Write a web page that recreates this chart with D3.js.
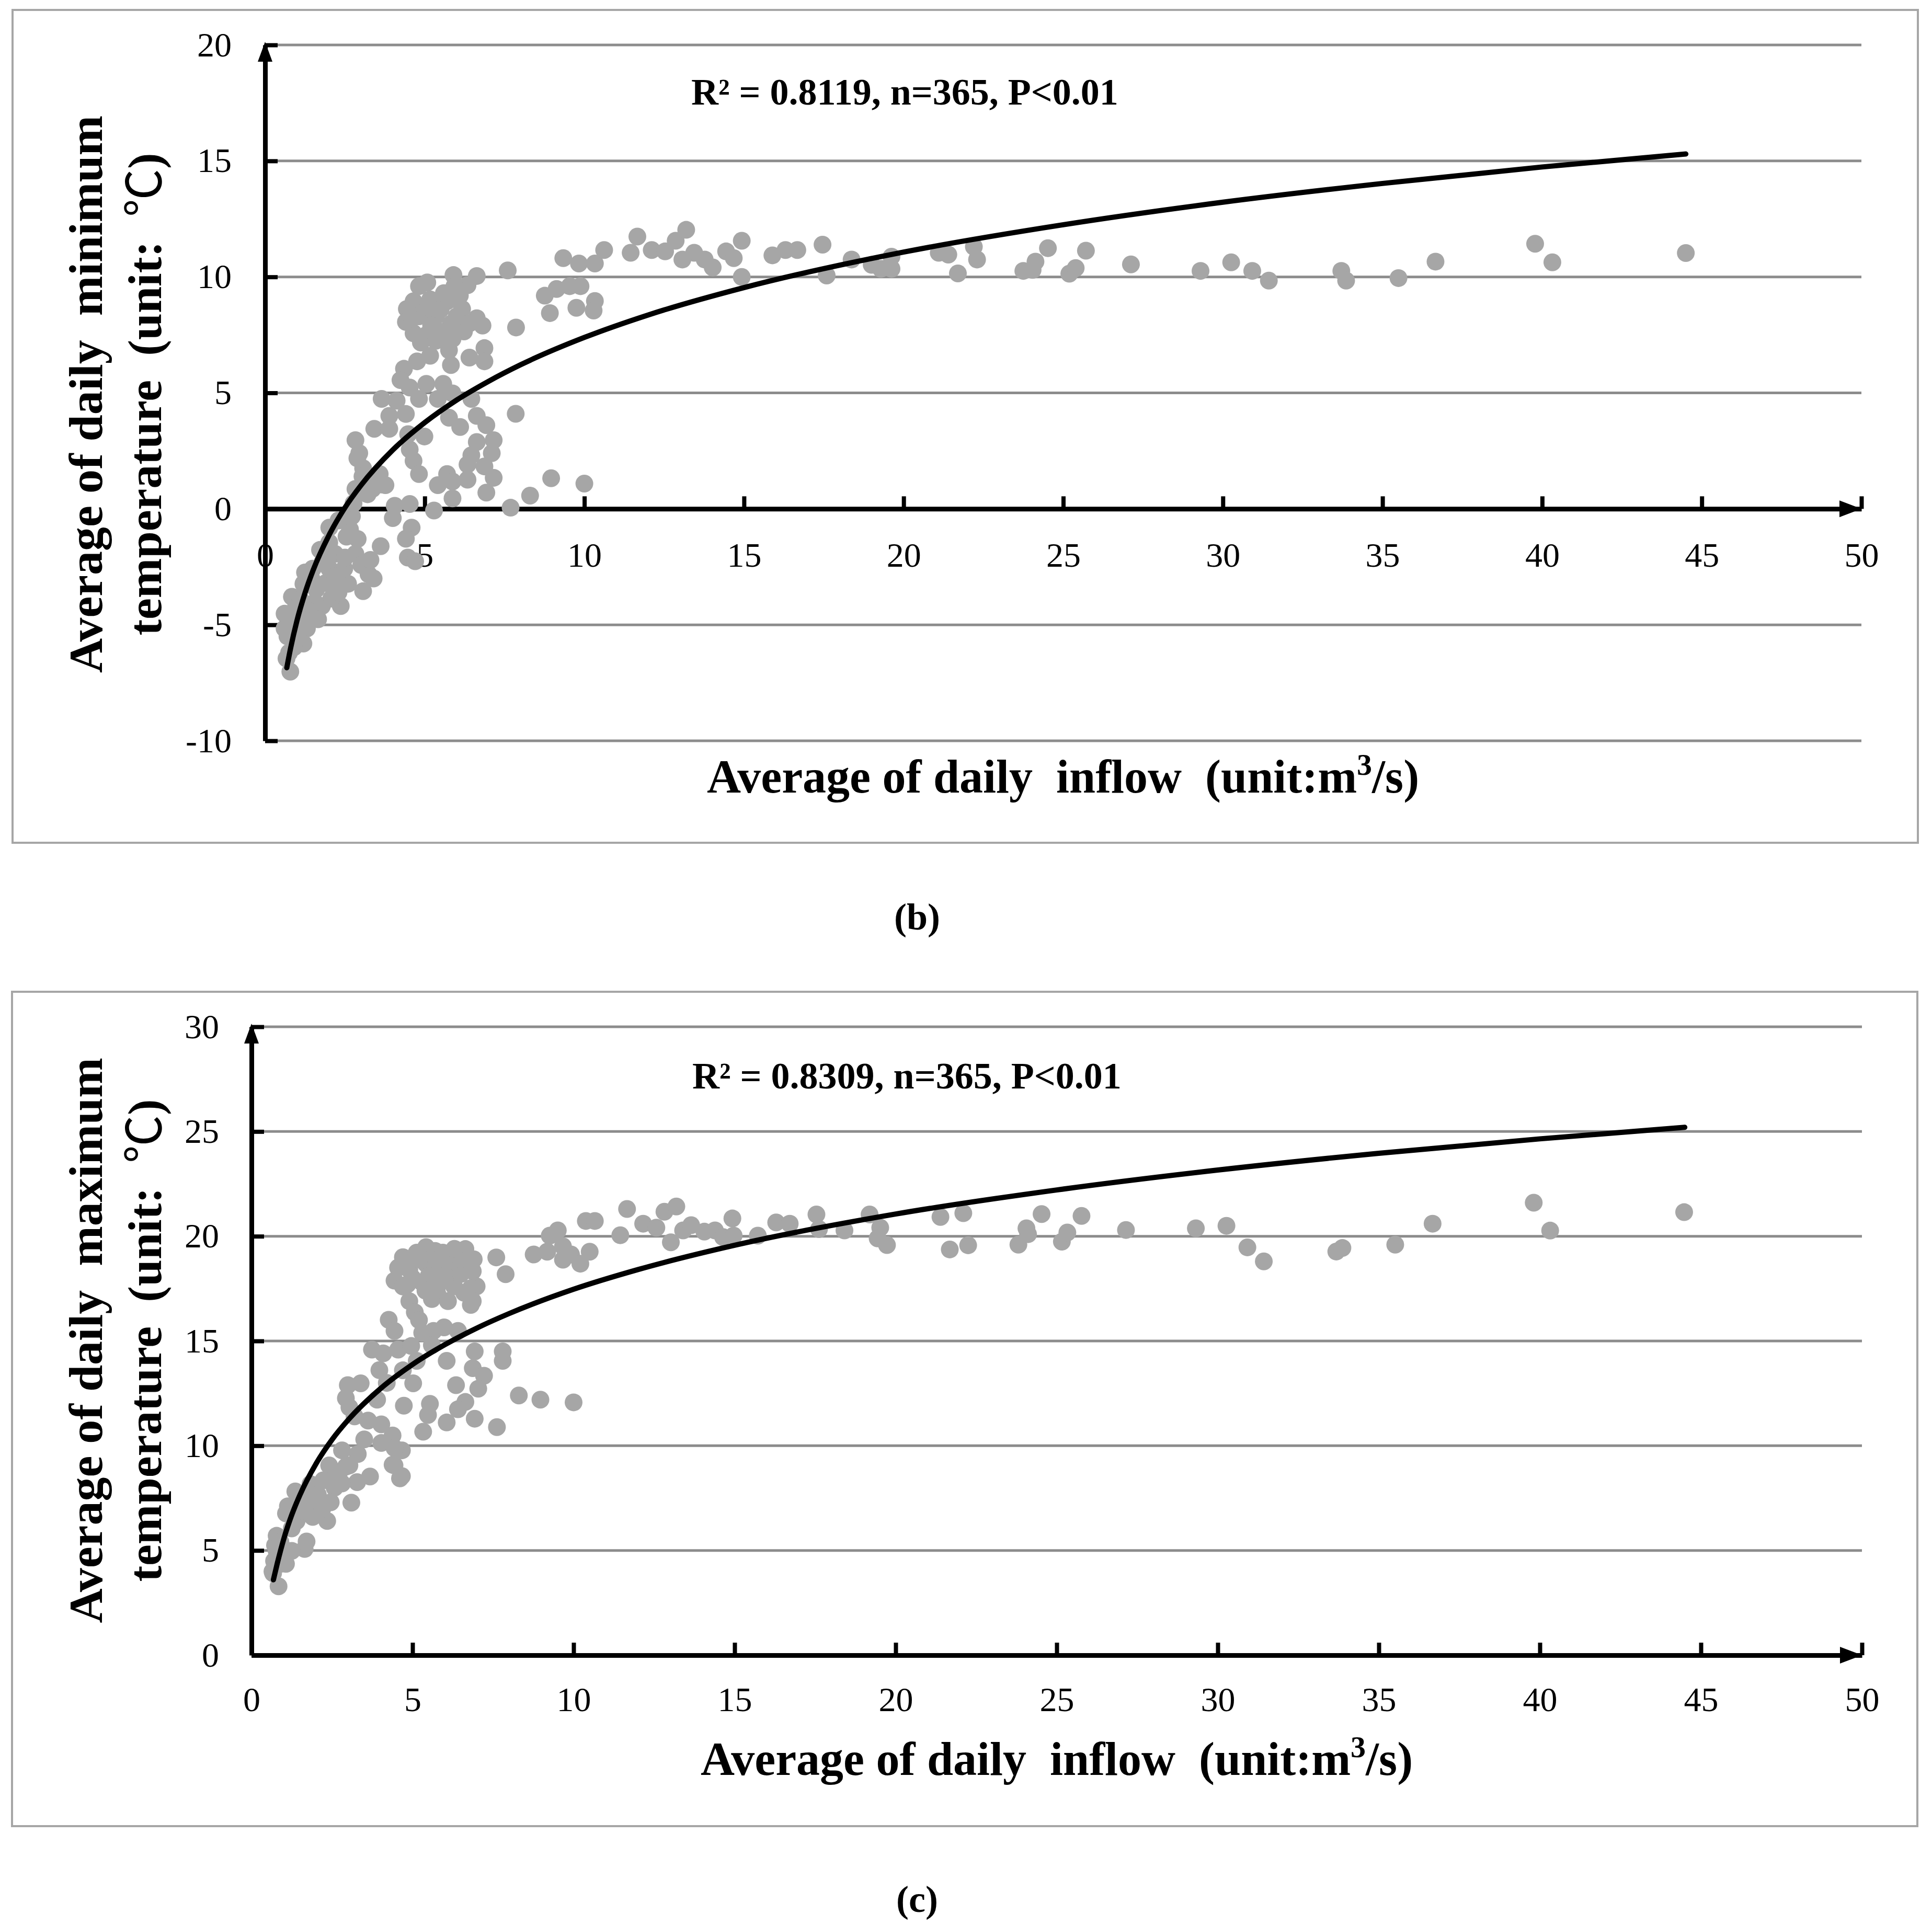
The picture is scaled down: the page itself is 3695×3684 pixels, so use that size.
<!DOCTYPE html>
<html>
<head>
<meta charset="utf-8">
<script src="https://cdn.jsdelivr.net/npm/d3@7"></script>
<style>
  body { margin: 0; background: #fff; }
  text { font-family: "Liberation Serif", "Times New Roman", serif; }
  .pre { white-space: pre; }
</style>
</head>
<body>
<svg id="chart"></svg>
<script>
// ---- data ----
const xTicks = [0, 5, 10, 15, 20, 25, 30, 35, 40, 45, 50];
const bYTicks = [-10, -5, 0, 5, 10, 15, 20];
const cYTicks = [0, 5, 10, 15, 20, 25, 30];

// (b) daily inflow vs daily minimum temperature
const bInflow = [
  9.34, 9.83, 10.33, 10.62, 8.76, 9.13, 9.54, 9.88, 9.75, 8.92, 10.33, 10.29, 11.66, 11.45, 12.11, 12.53,
  12.86, 13.19, 13.07, 13.44, 13.77, 14.02, 14.44, 14.93, 14.68, 14.93, 15.89, 16.3, 16.67, 17.46, 17.59, 18.37,
  19.0, 19.29, 19.62, 19.62, 21.1, 8.96, 10.0, 8.3, 7.85, 21.4, 21.7, 22.2, 22.3,
  23.75, 24.13, 24.04, 24.52, 25.19, 25.39, 25.71, 27.12, 29.3, 30.26, 30.92, 31.44, 33.71, 33.86, 35.5, 36.66,
  39.78, 40.32, 44.5,
  5.08, 5.9, 6.63, 7.6, 6.34, 5.93, 4.82, 4.65, 5.17, 5.7, 6.17, 6.63, 6.81, 4.44, 4.41, 4.82,
  5.35, 5.82, 6.23, 4.65, 5.05, 5.46, 4.88, 5.35, 5.87, 5.76, 7.86, 6.87, 6.87, 6.4, 5.82, 5.17,
  4.76, 4.35, 4.24, 4.53, 5.05, 5.58, 5.87, 3.65, 4.12, 4.82, 5.41, 6.46, 3.89, 4.41, 3.42, 3.89,
  4.99, 2.83, 2.95, 4.53, 4.65, 3.07, 3.59, 2.83, 3.36, 3.77, 4.82, 5.76, 6.11, 6.63, 6.93, 7.16,
  6.63, 7.1, 6.46, 6.34, 6.87, 7.16, 5.7, 5.41, 5.87, 6.34, 6.93, 5.87, 7.69, 4.06, 4.53, 5.29,
  4.0, 4.59, 4.41, 4.47, 4.7, 3.62, 2.72, 2.66, 2.01, 2.01, 2.19, 2.83, 3.01, 3.24, 3.07, 2.6,
  2.37, 2.07, 1.6, 1.78, 1.25, 1.66, 1.31, 1.2, 0.9, 0.67, 0.79, 0.61, 0.61, 0.84, 1.2, 1.49,
  1.72, 2.01, 2.48, 1.14, 1.55, 2.77, 3.18, 3.65, 2.89, 3.05, 3.21, 3.53, 4.48,
  0.7, 0.75, 1.0, 1.05, 1.1, 1.35, 1.45, 1.9, 2.2, 2.3, 2.5, 2.55, 2.3, 2.9, 3.3, 3.4,
  1.8, 0.95, 1.25, 0.85,
  5.1, 5.5, 6.0, 4.6, 5.2, 6.4, 5.6, 6.1
];
const bMinTemp = [
  10.81, 10.58, 10.58, 11.16, 9.19, 9.48, 9.6, 9.6, 8.67, 8.44, 8.96, 8.55, 11.74, 11.04, 11.16, 11.1,
  11.56, 12.03, 10.75, 11.04, 10.75, 10.41, 11.1, 11.56, 10.81, 10.0, 10.93, 11.16, 11.16, 11.39, 10.06, 10.75,
  10.52, 10.35, 10.87, 10.35, 11.04, 1.32, 1.09, 0.57, 4.1, 10.96, 10.15, 11.3, 10.75,
  10.26, 10.66, 10.3, 11.24, 10.14, 10.38, 11.13, 10.54, 10.26, 10.63, 10.26, 9.84, 10.26, 9.84, 9.95, 10.66,
  11.43, 10.63, 11.03,
  9.76, 10.08, 10.04, 10.28, 9.64, 9.6, 9.6, 8.95, 9.03, 8.95, 8.62, 8.22, 7.9, 8.62, 8.06, 8.3,
  8.3, 7.98, 7.65, 7.57, 7.49, 7.65, 7.17, 7.25, 7.33, 6.84, 7.82, 6.93, 6.36, 6.52, 6.2, 6.6,
  6.36, 6.04, 5.55, 5.23, 5.39, 5.39, 4.98, 4.74, 4.66, 4.74, 4.74, 4.74, 4.01, 4.09, 3.45, 3.45,
  3.12, 2.96, 2.4, 2.56, 2.07, 1.75, 1.5, 0.86, 0.86, 1.02, 1.5, 3.93, 3.53, 4.01, 3.61, 2.96,
  2.88, 2.4, 2.31, 1.91, 1.83, 1.34, 1.5, 1.02, 1.18, 1.26, 0.7, 0.45, 0.05, 0.13, 0.21, -0.07,
  -0.4, -0.81, -1.29, -2.1, -2.26, -1.61, -0.32, -0.89, -0.81, -1.45, -1.94, -1.94, -2.42, -2.82, -3.55, -3.23,
  -4.19, -3.87, -3.47, -4.19, -2.74, -4.76, -5.16, -5.81, -5.97, -6.45, -7.02, -4.52, -5.16, -3.79, -3.23, -2.58,
  -1.77, -2.58, -2.58, -4.35, -4.03, 0.24, 0.81, 1.05, 2.18, 1.4, 0.63, 1.14, 3.22,
  -5.5, -6.2, -4.8, -5.3, -3.9, -4.4, -3.0, -3.2, -2.9, -3.6, -2.1, -1.2, -0.5, -1.3, -2.2, -3.0,
  -2.3, -4.3, -4.8, -5.0,
  8.7, 8.6, 8.3, 8.2, 7.9, 8.0, 9.3, 9.2
];

// (c) daily inflow vs daily maximum temperature
const cInflow = [
  8.76, 9.26, 9.51, 9.67, 9.92, 10.21, 10.5, 10.38, 10.66, 9.18, 9.67, 11.45, 11.66, 12.16, 12.57, 12.82,
  13.19, 13.02, 13.4, 13.65, 14.06, 14.39, 14.64, 14.93, 14.97, 15.72, 16.29, 16.71, 17.54, 17.62, 18.41, 19.19,
  19.52, 19.44, 19.73, 21.39, 8.97, 10.0, 21.68, 22.1,
  22.25, 23.81, 24.06, 24.11, 24.53, 25.16, 25.33, 25.77, 27.15, 29.32, 30.27, 30.92, 31.43, 33.68, 33.87, 35.51,
  36.67, 39.81, 40.32, 44.48,
  5.42, 5.13, 5.94, 6.64, 4.55, 4.44, 4.9, 5.42, 5.89, 6.35, 6.87, 6.99, 4.84, 5.3, 5.77, 6.29,
  6.81, 5.77, 6.87, 6.81, 4.9, 5.07, 7.6, 7.89,
  4.26, 4.44, 3.74, 4.09, 4.55, 4.96, 5.13, 5.3, 5.65, 5.98, 6.41, 3.97, 6.06, 6.93, 7.8, 7.8,
  6.87, 7.22, 6.35, 7.04, 6.64, 8.3, 6.93, 6.41, 7.62, 5.02, 4.73, 5.54, 5.48, 6.06, 5.33, 2.99,
  3.39, 2.93, 3.04, 3.62, 4.03, 4.38, 4.03, 4.67, 4.44, 4.61, 3.68, 3.04, 2.81, 2.41, 2.23, 2.58,
  3.1, 3.28, 1.77, 1.36, 1.13, 2.06, 1.83,
  2.93, 2.81, 2.06, 2.46, 2.35, 1.77, 1.71, 1.65, 1.25, 1.07, 0.78, 0.78, 0.9, 0.67, 0.84, 0.73,
  1.25, 1.07, 4.44, 4.67, 4.38,
  0.7, 0.65, 0.9, 1.4, 1.55, 1.9, 2.2, 2.7, 3.3, 3.5, 3.2, 3.9, 4.2, 4.7, 5.6, 5.2,
  5.5, 6.1, 6.5, 6.2, 5.7, 4.7, 5.6, 6.1,
  5.2, 5.8, 6.5, 4.7, 5.4, 6.0, 6.6, 6.9, 5.0, 6.3
];
const cMaxTemp = [
  19.13, 20.03, 20.28, 19.52, 19.13, 18.69, 19.26, 20.73, 20.73, 19.26, 18.88, 20.05, 21.3, 20.6, 20.41, 21.17,
  21.42, 19.71, 20.28, 20.53, 20.22, 20.28, 19.96, 20.85, 20.03, 20.03, 20.66, 20.6, 21.04, 20.34, 20.28, 21.04,
  20.41, 19.9, 19.58, 20.92, 12.2, 12.07, 19.37, 21.1,
  19.57, 19.6, 20.38, 20.1, 21.06, 19.74, 20.18, 20.97, 20.3, 20.38, 20.5, 19.47, 18.8, 19.27, 19.44, 19.6,
  20.6, 21.6, 20.27, 21.15,
  19.48, 19.22, 19.22, 19.39, 18.5, 17.88, 18.41, 18.68, 18.5, 18.68, 18.33, 17.61, 17.7, 17.79, 17.61, 17.61,
  17.52, 17.26, 16.9, 16.72, 16.9, 16.37, 18.99, 18.19,
  16.01, 15.48, 14.59, 14.41, 14.59, 14.76, 14.05, 15.39, 15.48, 15.65, 15.48, 13.61, 14.05, 14.5, 14.5, 14.05,
  13.7, 13.34, 12.89, 12.72, 12.09, 12.4, 11.29, 11.74, 10.89, 12.98, 11.91, 12.0, 11.47, 11.11, 10.67, 12.89,
  12.98, 12.27, 11.83, 11.2, 11.02, 10.49, 10.13, 9.78, 9.06, 8.44, 8.53, 9.06, 9.78, 9.06, 8.35, 8.0,
  7.28, 8.26, 7.73, 7.82, 7.11, 7.11, 8.17,
  9.0, 8.2, 7.66, 7.3, 6.41, 7.3, 5.43, 5.07, 6.05, 6.77, 5.7, 4.98, 4.36, 3.91, 3.29, 5.25,
  4.98, 4.36, 9.89, 8.55, 9.09,
  4.5, 4.0, 5.4, 6.4, 6.9, 6.6, 7.0, 8.6, 9.6, 10.3, 11.4, 12.2, 13.0, 13.6, 14.8, 16.0,
  18.1, 18.0, 18.2, 19.1, 19.3, 19.0, 17.0, 16.9,
  18.9, 18.9, 18.9, 17.6, 17.4, 17.9, 17.3, 18.9, 18.0, 19.4
];

// fitted trend curves, read at these inflow values
const trendInflow = [0.68, 0.8, 1, 1.25, 1.5, 2, 2.5, 3, 4, 5, 6, 7, 8, 10, 12, 15, 20, 25, 30, 35, 40, 44.5];
const bTrend = [-6.85, -6.0, -4.81, -3.63, -2.66, -1.14, 0.05, 1.01, 2.54, 3.72, 4.69, 5.5, 6.21, 7.39, 8.36, 9.54, 11.07, 12.25, 13.22, 14.03, 14.74, 15.3];
const cTrend = [3.6, 4.38, 5.54, 6.7, 7.64, 9.13, 10.29, 11.23, 12.72, 13.88, 14.82, 15.62, 16.31, 17.47, 18.41, 19.57, 21.06, 22.21, 23.16, 23.96, 24.65, 25.2];

const W = 3695, H = 3684;
const svg = d3.select("#chart").attr("width", W).attr("height", H);

const panels = [
  {
    frame: [24, 19, 3668, 1612], x0: 507, x1: 3560, yTop: 86, yBot: 1417,
    yDomain: [-10, 20], yTicks: bYTicks, xs: bInflow, ys: bMinTemp, trend: bTrend,
    xPad: 64, yPad: 64,
    stats: "R² = 0.8119, n=365, P<0.01", statX: 1322, statY: 200,
    yTitle1: "Average of daily  minimum", titleCY: 754,
    xTitleX: 2033, xTitleY: 1516,
    caption: "(b)", capY: 1778
  },
  {
    frame: [23, 1897, 3667, 3493], x0: 481, x1: 3561, yTop: 1964, yBot: 3166,
    yDomain: [0, 30], yTicks: cYTicks, xs: cInflow, ys: cMaxTemp, trend: cTrend,
    xPad: 60, yPad: 62,
    stats: "R² = 0.8309, n=365, P<0.01", statX: 1324, statY: 2082,
    yTitle1: "Average of daily  maximum", titleCY: 2564,
    xTitleX: 2021, xTitleY: 3395,
    caption: "(c)", capY: 3657
  }
];

panels.forEach(drawPanel);

function drawPanel(p) {
  const g = svg.append("g");

  g.append("rect")
    .attr("x", p.frame[0]).attr("y", p.frame[1])
    .attr("width", p.frame[2] - p.frame[0]).attr("height", p.frame[3] - p.frame[1])
    .attr("fill", "none").attr("stroke", "#a6a6a6").attr("stroke-width", 4);

  const x = d3.scaleLinear().domain([0, 50]).range([p.x0, p.x1]);
  const y = d3.scaleLinear().domain(p.yDomain).range([p.yBot, p.yTop]);

  // horizontal gridlines
  g.append("g").selectAll("line")
    .data(p.yTicks)
    .join("line")
    .attr("x1", p.x0).attr("x2", p.x1)
    .attr("y1", d => y(d)).attr("y2", d => y(d))
    .attr("stroke", "#8c8c8c").attr("stroke-width", 5);

  // x axis crosses at 0
  const xAxis = g.append("g")
    .attr("transform", `translate(0,${y(0)})`)
    .call(d3.axisBottom(x).tickValues(xTicks).tickFormat(d => String(d))
      .tickSize(-24).tickSizeOuter(0).tickPadding(p.xPad));
  styleAxis(xAxis);
  g.append("path")
    .attr("d", `M${p.x1},${y(0)}L${p.x1 - 42},${y(0) - 16}L${p.x1 - 42},${y(0) + 16}Z`)
    .attr("fill", "#000");

  // y axis
  const yAxis = g.append("g")
    .attr("transform", `translate(${p.x0},0)`)
    .call(d3.axisLeft(y).tickValues(p.yTicks).tickFormat(d => String(d))
      .tickSize(-24).tickSizeOuter(0).tickPadding(p.yPad));
  styleAxis(yAxis);
  g.append("path")
    .attr("d", `M${p.x0},${p.yTop - 6}L${p.x0 - 14},${p.yTop + 32}L${p.x0 + 14},${p.yTop + 32}Z`)
    .attr("fill", "#000");

  // scatter
  g.append("g").selectAll("circle")
    .data(d3.zip(p.xs, p.ys))
    .join("circle")
    .attr("cx", d => x(d[0]))
    .attr("cy", d => y(d[1]))
    .attr("r", 17)
    .attr("fill", "#a6a6a6");

  // trend line
  const line = d3.line()
    .x(d => x(d[0]))
    .y(d => y(d[1]))
    .curve(d3.curveMonotoneX);
  g.append("path")
    .datum(d3.zip(trendInflow, p.trend))
    .attr("d", line)
    .attr("fill", "none")
    .attr("stroke", "#000")
    .attr("stroke-width", 10)
    .attr("stroke-linecap", "round");

  // stats label
  g.append("text")
    .attr("x", p.statX).attr("y", p.statY)
    .attr("font-size", 72).attr("font-weight", "bold")
    .text(p.stats);

  // y title (two lines)
  g.append("text")
    .attr("class", "pre")
    .attr("transform", `translate(195,${p.titleCY}) rotate(-90)`)
    .attr("text-anchor", "middle")
    .attr("font-size", 92).attr("font-weight", "bold")
    .text(p.yTitle1);
  const t2 = g.append("text")
    .attr("class", "pre")
    .attr("transform", `translate(308,${p.titleCY}) rotate(-90)`)
    .attr("text-anchor", "middle")
    .attr("font-size", 92).attr("font-weight", "bold");
  t2.append("tspan").text("temperature  (unit:  ");
  t2.append("tspan")
    .attr("font-family", "'Noto Sans CJK SC', 'DejaVu Sans', sans-serif")
    .attr("font-weight", "normal")
    .text("℃");
  t2.append("tspan").text(")");

  // x title
  const xt = g.append("text")
    .attr("class", "pre")
    .attr("x", p.xTitleX).attr("y", p.xTitleY)
    .attr("text-anchor", "middle")
    .attr("font-size", 90).attr("font-weight", "bold");
  xt.append("tspan").text("Average of daily  inflow  (unit:m");
  xt.append("tspan").attr("font-size", 58).attr("dy", -34).text("3");
  xt.append("tspan").attr("dy", 34).text("/s)");

  // panel caption
  g.append("text")
    .attr("x", 1754).attr("y", p.capY)
    .attr("text-anchor", "middle")
    .attr("font-size", 72).attr("font-weight", "bold")
    .text(p.caption);
}

function styleAxis(a) {
  a.attr("font-size", 66).attr("font-family", "'Liberation Serif', 'Times New Roman', serif");
  a.select(".domain").attr("stroke", "#000").attr("stroke-width", 9);
  a.selectAll(".tick line").attr("stroke", "#000").attr("stroke-width", 8);
  a.selectAll(".tick text").attr("fill", "#000");
}
</script>
</body>
</html>
